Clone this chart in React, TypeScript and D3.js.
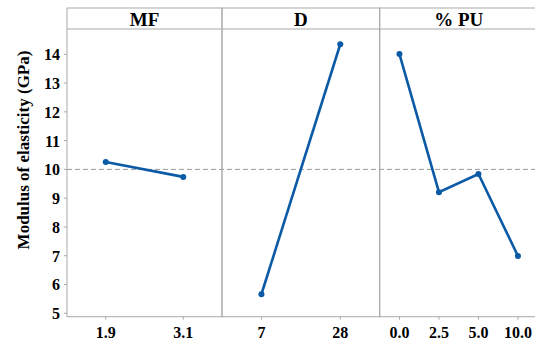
import { useEffect, useRef } from 'react';
import * as d3 from 'd3';

const factors = ['MF', 'D', '% PU'];
const mfLevels = ['1.9', '3.1'];
const mfMeans = [10.26, 9.74];
const dLevels = ['7', '28'];
const dMeans = [5.66, 14.35];
const puLevels = ['0.0', '2.5', '5.0', '10.0'];
const puMeans = [14.01, 9.21, 9.84, 6.99];
const yTicks = [5, 6, 7, 8, 9, 10, 11, 12, 13, 14];
const grandMean = 10;

export default function App() {
  const ref = useRef<SVGSVGElement>(null);

  useEffect(() => {
    const width = 535;
    const left = 67;
    const top = 8;
    const headerH = 21;
    const bottom = 316.7;
    const font = 'Liberation Serif, Times New Roman, serif';
    const frame = '#a9a9a9';
    const blue = '#0b5aa6';

    const svg = d3.select(ref.current);
    svg.selectAll('*').remove();

    const y = d3.scaleLinear().domain([4.88, 14.88]).range([bottom, top + headerH]);

    const panels = [
      { name: factors[0], levels: mfLevels, means: mfMeans, w: 155 },
      { name: factors[1], levels: dLevels, means: dMeans, w: 157.7 },
      { name: factors[2], levels: puLevels, means: puMeans, w: 158 },
    ];

    // grand mean reference line
    svg.append('line')
      .attr('x1', left).attr('x2', width)
      .attr('y1', y(grandMean)).attr('y2', y(grandMean))
      .attr('stroke', '#9a9a9a').attr('stroke-width', 1)
      .attr('stroke-dasharray', '5,3');

    let x0 = left;
    panels.forEach((p) => {
      const g = svg.append('g').attr('transform', `translate(${x0},0)`);
      const x = d3.scalePoint<string>().domain(p.levels).range([0, p.w]).padding(0.5);

      g.append('rect')
        .attr('x', 0).attr('y', top).attr('width', p.w).attr('height', bottom - top)
        .attr('fill', 'none').attr('stroke', frame).attr('stroke-width', 1);
      g.append('line')
        .attr('x1', 0).attr('x2', p.w).attr('y1', top + headerH).attr('y2', top + headerH)
        .attr('stroke', frame);

      g.append('text')
        .attr('x', p.w / 2).attr('y', top + 18)
        .attr('text-anchor', 'middle')
        .attr('font-family', font).attr('font-weight', 'bold').attr('font-size', 19)
        .text(p.name);

      // x ticks
      p.levels.forEach((lv) => {
        g.append('line')
          .attr('x1', x(lv)!).attr('x2', x(lv)!)
          .attr('y1', bottom).attr('y2', bottom + 3)
          .attr('stroke', frame);
        g.append('text')
          .attr('x', x(lv)!).attr('y', bottom + 21)
          .attr('text-anchor', 'middle')
          .attr('font-family', font).attr('font-weight', 'bold').attr('font-size', 16)
          .text(lv);
      });

      const line = d3.line<number>()
        .x((_, i) => x(p.levels[i])!)
        .y((d) => y(d));

      g.append('path')
        .datum(p.means)
        .attr('d', line)
        .attr('fill', 'none').attr('stroke', blue).attr('stroke-width', 2.6);

      g.selectAll('circle.pt')
        .data(p.means)
        .join('circle')
        .attr('class', 'pt')
        .attr('cx', (_, i) => x(p.levels[i])!)
        .attr('cy', (d) => y(d))
        .attr('r', 3)
        .attr('fill', blue);

      x0 += p.w;
    });

    // y axis ticks
    yTicks.forEach((t) => {
      svg.append('line')
        .attr('x1', left - 3).attr('x2', left)
        .attr('y1', y(t)).attr('y2', y(t))
        .attr('stroke', frame);
      svg.append('text')
        .attr('x', left - 7).attr('y', y(t) + 6)
        .attr('text-anchor', 'end')
        .attr('font-family', font).attr('font-weight', 'bold').attr('font-size', 16)
        .text(t);
    });

    svg.append('text')
      .attr('transform', 'translate(29,150) rotate(-90)')
      .attr('text-anchor', 'middle')
      .attr('font-family', font).attr('font-weight', 'bold').attr('font-size', 17)
      .text('Modulus of elasticity (GPa)');
  }, []);

  return (
    <svg
      ref={ref}
      width={535}
      height={346}
      style={{ position: 'absolute', left: 0, top: 0, background: '#fff' }}
    />
  );
}
